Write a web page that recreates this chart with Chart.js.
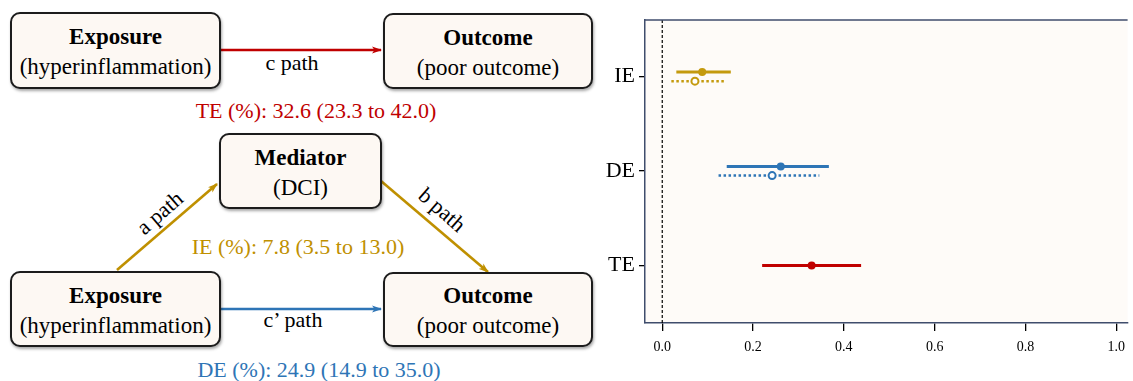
<!DOCTYPE html>
<html>
<head>
<meta charset="utf-8">
<script src="https://cdn.jsdelivr.net/npm/chart.js@4.4.1/dist/chart.umd.min.js"></script>
<style>
  body { margin: 0; width: 1133px; height: 381px; overflow: hidden; background: #fff;
         font-family: "Liberation Serif", "Times New Roman", serif; position: relative; }
  .box { position: absolute; box-sizing: border-box; background: #fdf8f3; border: 2px solid #1c1c1c;
         border-radius: 10px; box-shadow: 1px 2px 3px rgba(0,0,0,0.35);
         display: flex; flex-direction: column; justify-content: center; align-items: center;
         font-size: 23px; line-height: 30px; padding-top: 3px; color: #000; }
  .box b { font-weight: bold; }
  .lbl { position: absolute; font-size: 22px; white-space: nowrap; transform: translate(-50%, -50%); color: #000; }
  #diagram { position: absolute; left: 0; top: 0; }
  #plot { position: absolute; left: 590px; top: 0; width: 543px; height: 381px; }
</style>
</head>
<body>

<svg id="diagram" width="600" height="381">
  <defs>
    <marker id="hr" markerWidth="10" markerHeight="8" refX="9" refY="4" orient="auto" markerUnits="userSpaceOnUse">
      <path d="M0,0.5 L10,4 L0,7.5 L2.5,4 z" fill="#c00000"/>
    </marker>
    <marker id="hg" markerWidth="10" markerHeight="8" refX="9" refY="4" orient="auto" markerUnits="userSpaceOnUse">
      <path d="M0,0.5 L10,4 L0,7.5 L2.5,4 z" fill="#bf9000"/>
    </marker>
    <marker id="hb" markerWidth="10" markerHeight="8" refX="9" refY="4" orient="auto" markerUnits="userSpaceOnUse">
      <path d="M0,0.5 L10,4 L0,7.5 L2.5,4 z" fill="#2e75b6"/>
    </marker>
  </defs>
  <line x1="221" y1="50" x2="381" y2="50" stroke="#c00000" stroke-width="2.6" marker-end="url(#hr)"/>
  <line x1="117" y1="270" x2="217" y2="184" stroke="#bf9000" stroke-width="2.6" marker-end="url(#hg)"/>
  <line x1="381" y1="181" x2="488" y2="272" stroke="#bf9000" stroke-width="2.6" marker-end="url(#hg)"/>
  <line x1="220" y1="309" x2="381" y2="309" stroke="#2e75b6" stroke-width="2.6" marker-end="url(#hb)"/>
</svg>

<div class="box" style="left:10px;top:12px;width:211px;height:77px;"><b>Exposure</b><span>(hyperinflammation)</span></div>
<div class="box" style="left:383px;top:13px;width:210px;height:76px;"><b>Outcome</b><span>(poor outcome)</span></div>
<div class="box" style="left:219px;top:133px;width:163px;height:76px;"><b>Mediator</b><span>(DCI)</span></div>
<div class="box" style="left:10px;top:271px;width:211px;height:76px;"><b>Exposure</b><span>(hyperinflammation)</span></div>
<div class="box" style="left:383px;top:272px;width:210px;height:75px;"><b>Outcome</b><span>(poor outcome)</span></div>

<div class="lbl" style="left:292px;top:63px;">c path</div>
<div class="lbl" style="left:316px;top:111px;color:#c00000;">TE (%): 32.6 (23.3 to 42.0)</div>
<div class="lbl" style="left:160px;top:213px;transform:translate(-50%,-50%) rotate(-41deg);">a path</div>
<div class="lbl" style="left:442px;top:210px;transform:translate(-50%,-50%) rotate(41deg);">b path</div>
<div class="lbl" style="left:298px;top:247px;color:#bf9000;">IE (%): 7.8 (3.5 to 13.0)</div>
<div class="lbl" style="left:293px;top:320px;">c’ path</div>
<div class="lbl" style="left:319px;top:370px;color:#2e75b6;">DE (%): 24.9 (14.9 to 35.0)</div>

<div id="plot"><canvas id="forest"></canvas></div>

<script>
// effects on the y axis, bottom to top
var effects = ["TE", "DE", "IE"];

// main estimates (solid lines, filled markers)
var estimate = [0.329, 0.261, 0.088];
var lower    = [0.220, 0.142, 0.031];
var upper    = [0.438, 0.367, 0.151];

// second estimates (dotted lines, open markers)
var estimate2 = [null, 0.242, 0.072];
var lower2    = [null, 0.124, 0.020];
var upper2    = [null, 0.346, 0.140];

var xTicks = [0, 0.2, 0.4, 0.6, 0.8, 1.0];

var colors = ["#c00000", "#2e75b6", "#c49a0e"];
var dodge = 0.048;

var datasets = [];
effects.forEach(function(name, i){
    var hasSecond = estimate2[i] !== null;
    var y1 = hasSecond ? i + dodge : i;
    datasets.push({
        data: [{x: lower[i], y: y1}, {x: estimate[i], y: y1}, {x: upper[i], y: y1}],
        borderColor: colors[i],
        backgroundColor: colors[i],
        borderWidth: 3,
        pointRadius: [0, 4, 0],
        pointBorderWidth: 0,
        showLine: true
    });
    if (hasSecond) {
        var y2 = i - dodge;
        datasets.push({
            data: [{x: lower2[i], y: y2}, {x: estimate2[i], y: y2}, {x: upper2[i], y: y2}],
            borderColor: colors[i],
            backgroundColor: "#fff",
            borderWidth: 2.5,
            borderDash: [2.5, 2.5],
            pointRadius: [0, 3.5, 0],
            pointBorderWidth: 2,
            pointBorderColor: colors[i],
            showLine: true
        });
    }
});

// reference line at zero
datasets.push({
    data: [{x: 0, y: -0.61}, {x: 0, y: 2.6}],
    borderColor: "#000",
    borderWidth: 1.2,
    borderDash: [3, 2],
    pointRadius: 0,
    showLine: true
});

// plot background and top spine
var frame = {
    id: "frame",
    beforeDraw: function(chart){
        var c = chart.ctx, a = chart.chartArea;
        c.save();
        c.fillStyle = "#fefbf8";
        c.fillRect(a.left, a.top, a.right - a.left, a.bottom - a.top);
        c.restore();
    },
    afterDraw: function(chart){
        var c = chart.ctx, a = chart.chartArea;
        c.save();
        c.strokeStyle = "#3f4d6c";
        c.lineWidth = 1.5;
        c.beginPath();
        c.moveTo(a.left, a.top);
        c.lineTo(a.right, a.top);
        c.stroke();
        c.restore();
    }
};

new Chart(document.getElementById("forest"), {
    type: "scatter",
    data: { datasets: datasets },
    options: {
        responsive: true,
        maintainAspectRatio: false,
        animation: false,
        layout: { padding: { top: 20, bottom: 20, left: 0, right: 0 } },
        plugins: { legend: { display: false }, tooltip: { enabled: false } },
        scales: {
            x: {
                type: "linear",
                min: -0.038,
                max: 1.025,
                afterBuildTicks: function(s){ s.ticks = xTicks.map(function(v){ return {value: v}; }); },
                afterFit: function(s){ s.height = 38; },
                ticks: {
                    callback: function(v){ return v.toFixed(1); },
                    font: { family: "Liberation Serif", size: 14 },
                    color: "#000",
                    padding: 8,
                    maxRotation: 0
                },
                grid: { display: true, drawOnChartArea: false, drawTicks: true, tickLength: 8, color: "#000", lineWidth: 1.3 },
                border: { display: true, color: "#3f4d6c", width: 1.5 }
            },
            y: {
                type: "linear",
                min: -0.61,
                max: 2.6,
                afterBuildTicks: function(s){ s.ticks = effects.map(function(n, i){ return {value: i}; }); },
                afterFit: function(s){ s.width = 55; },
                ticks: {
                    callback: function(v){ return effects[v]; },
                    font: { family: "Liberation Serif", size: 22 },
                    color: "#000",
                    padding: 4
                },
                grid: { display: true, drawOnChartArea: false, drawTicks: true, tickLength: 6, color: "#000", lineWidth: 1.3 },
                border: { display: true, color: "#3f4d6c", width: 1.5 }
            }
        }
    },
    plugins: [frame]
});
</script>
</body>
</html>
